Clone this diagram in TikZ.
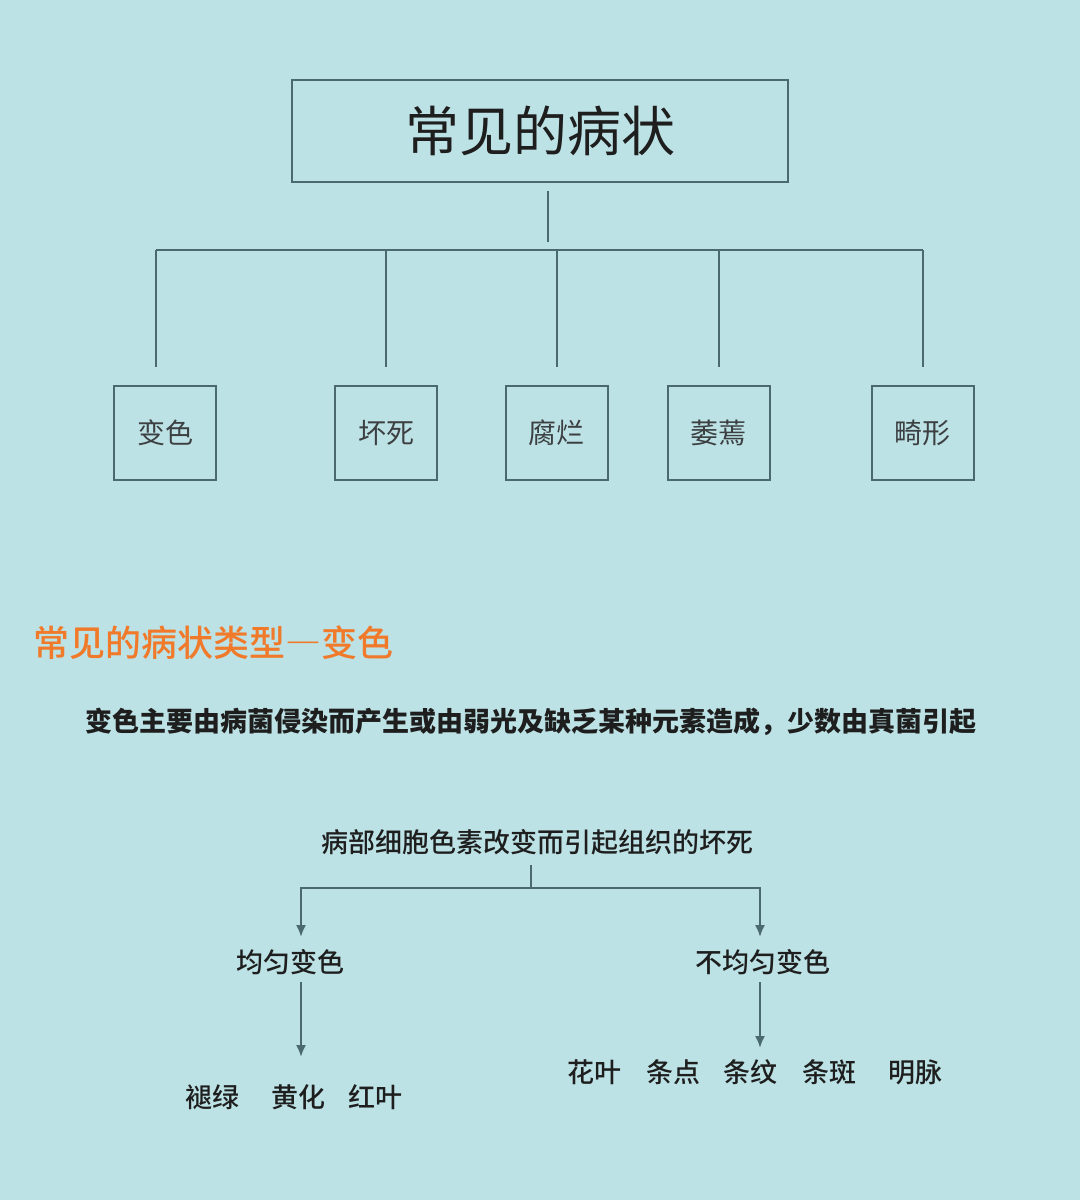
\documentclass[tikz,border=0pt]{standalone}
\usepackage{fontspec}
\setmainfont{Noto Sans CJK SC}
\newfontfamily\medfont{Noto Sans CJK SC Medium}
\usepackage{xcolor}
\usetikzlibrary{arrows.meta,calc}
\definecolor{bgcyan}{RGB}{189,226,229}
\definecolor{linegray}{RGB}{74,106,112}
\definecolor{headorange}{RGB}{240,122,42}
\definecolor{inkgray}{RGB}{30,30,30}
\definecolor{boxink}{RGB}{60,64,66}
\tikzset{
	titlebox/.style={draw=linegray, line width=1pt, minimum width=248pt, minimum height=51pt,
			inner sep=0pt, text=inkgray, font=\fontsize{27}{30}\selectfont},
	symptombox/.style={draw=linegray, line width=1pt, minimum width=51pt, minimum height=47pt,
			inner sep=0pt, text=boxink, font=\fontsize{14}{16}\selectfont},
	plaintext/.style={text=inkgray, font=\fontsize{13.5}{16}\medfont},
	treeline/.style={draw=linegray, line width=1pt},
	tipped/.style={treeline, -{Latex[length=6pt,width=5pt]}}
}

\begin{document}
\begin{tikzpicture}[x=0.5pt, y=-0.5pt]
	\fill[bgcyan] (0,0) rectangle (1080,1200);
	\useasboundingbox (0,0) rectangle (1080,1200);

	% upper chart
	\node[titlebox] (title) at (540,131) {常见的病状};
	\node[symptombox] (b1) at (165,433) {变色};
	\node[symptombox] (b2) at (386,433) {坏死};
	\node[symptombox] (b3) at (556.5,433) {腐烂};
	\node[symptombox] (b4) at (718.5,433) {萎蔫};
	\node[symptombox] (b5) at (922.5,433) {畸形};

	\coordinate (stemtop) at (548,191);
	\coordinate (stembot) at (548,242);
	\coordinate (barL) at (156,250);
	\coordinate (barR) at (923,250);

	\draw[treeline] (stemtop) -- (stembot);
	\draw[treeline] (barL) -- (barR);
	\draw[treeline] (barL) -- ([yshift=9pt]barL |- b1.north);
	\draw[treeline] (b2.north |- barL) -- ([yshift=9pt]b2.north);
	\draw[treeline] (b3.north |- barL) -- ([yshift=9pt]b3.north);
	\draw[treeline] (b4.north |- barL) -- ([yshift=9pt]b4.north);
	\draw[treeline] (barR) -- ([yshift=9pt]barR |- b5.north);

	% heading and description
	\node[anchor=west, text=headorange, font=\fontsize{18}{20}\medfont\addfontfeature{RawFeature=+fwid}, inner sep=0pt]
		(heading) at (33,643) {常见的病状类型—变色};
	\node[plaintext, font=\fontsize{13.5}{16}\selectfont\bfseries] (desc) at (530.5,722)
		{变色主要由病菌侵染而产生或由弱光及缺乏某种元素造成，少数由真菌引起};

	% lower chart
	\node[plaintext] (src) at (537.5,842) {病部细胞色素改变而引起组织的坏死};
	\node[plaintext] (uni) at (290,962) {均匀变色};
	\node[plaintext] (nonuni) at (763,962) {不均匀变色};

	\node[plaintext] (l1) at (212,1097) {褪绿};
	\node[plaintext] (l2) at (298,1097) {黄化};
	\node[plaintext] (l3) at (375,1097) {红叶};

	\node[plaintext] (r1) at (594,1072) {花叶};
	\node[plaintext] (r2) at (673,1072) {条点};
	\node[plaintext] (r3) at (750,1072) {条纹};
	\node[plaintext] (r4) at (829,1072) {条斑};
	\node[plaintext] (r5) at (915,1072) {明脉};

	\coordinate (split) at (531,888);
	\coordinate (lhit) at (301,937);
	\coordinate (rhit) at (760,937);
	\coordinate (ltip) at (301,1057);
	\coordinate (rtip) at (760,1048);

	\draw[treeline] (split |- 0,865) -- (split);
	\draw[tipped] (split) -| (lhit);
	\draw[tipped] (split) -| (rhit);
	\draw[tipped] (lhit |- 0,982) -- (ltip);
	\draw[tipped] (rhit |- 0,982) -- (rtip);
\end{tikzpicture}
\end{document}
